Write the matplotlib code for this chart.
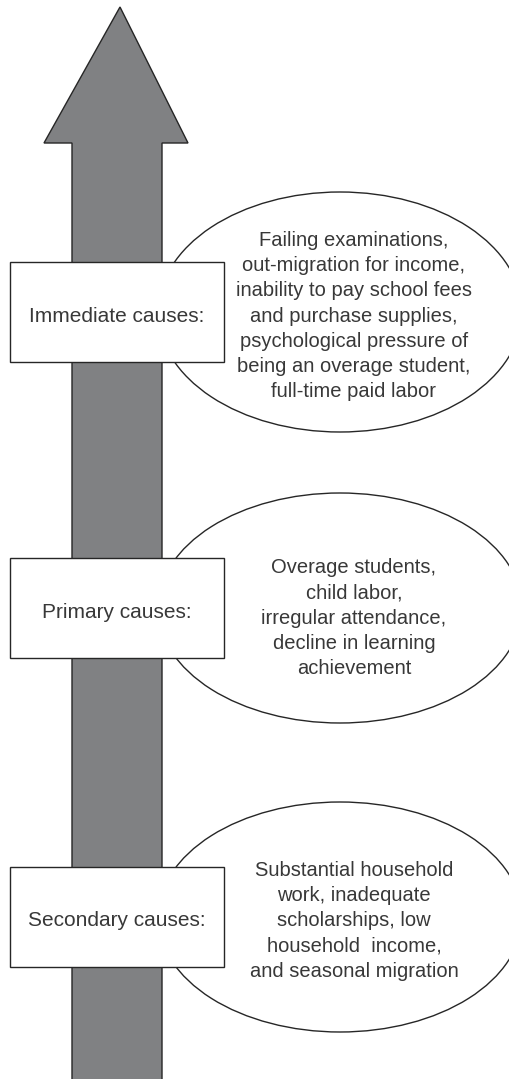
import matplotlib.pyplot as plt
from matplotlib.patches import Polygon, Ellipse, Rectangle

plt.rcParams['font.family'] = ['Liberation Sans', 'DejaVu Sans']

# levels, top of the arrow first
levels = ['Immediate causes:', 'Primary causes:', 'Secondary causes:']
causes = [
    'Failing examinations,\nout-migration for income,\ninability to pay school fees\n'
    'and purchase supplies,\npsychological pressure of\nbeing an overage student,\nfull-time paid labor',
    'Overage students,\nchild labor,\nirregular attendance,\ndecline in learning\nachievement',
    'Substantial household\nwork, inadequate\nscholarships, low\nhousehold  income,\nand seasonal migration',
]

# layout (pixels, y down)
W, H = 509, 1079
row_y = [312, 608, 917]
txt_dy = [4, 10, 4]
ell_h = [240, 230, 230]
ell_x, ell_w = 340, 364
box_x0, box_x1, box_h = 10, 224, 100
txt_col = '#383838'
edge = '#262626'

fig = plt.figure(figsize=(W / 100, H / 100), dpi=100)
ax = fig.add_axes([0, 0, 1, 1])
ax.set_xlim(0, W)
ax.set_ylim(H, 0)
ax.axis('off')

# big upward arrow
arrow_pts = [(120, 7), (188, 143), (162, 143), (162, H + 5),
             (72, H + 5), (72, 143), (44, 143)]
ax.add_patch(Polygon(arrow_pts, closed=True, facecolor='#808183',
                     edgecolor=edge, lw=1.0, zorder=1))

for i, (lab, txt) in enumerate(zip(levels, causes)):
    y = row_y[i]
    ax.add_patch(Ellipse((ell_x, y), ell_w, ell_h[i], facecolor='white',
                         edgecolor=edge, lw=1.0, zorder=2))
    ax.add_patch(Rectangle((box_x0, y - box_h / 2), box_x1 - box_x0, box_h,
                           facecolor='white', edgecolor=edge, lw=1.0, zorder=3))
    ax.text((box_x0 + box_x1) / 2, y + 4, lab, ha='center', va='center',
            fontsize=15, color=txt_col, zorder=4)
    ax.text(354, y + txt_dy[i], txt, ha='center', va='center', fontsize=14.5,
            color=txt_col, linespacing=1.42, zorder=4)

fig.savefig('out.png', dpi=100)
